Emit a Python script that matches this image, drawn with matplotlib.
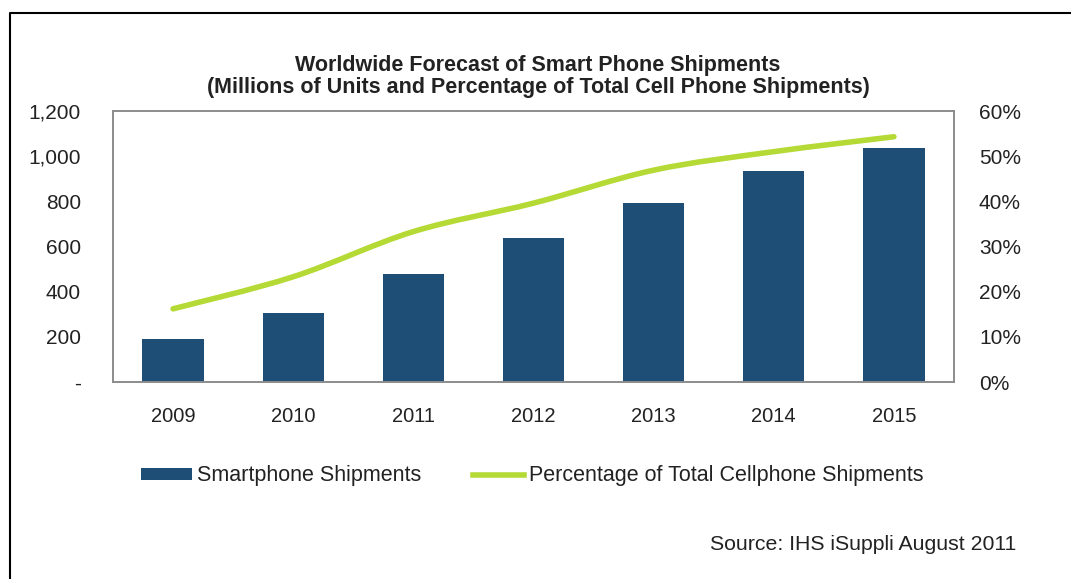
import matplotlib.pyplot as plt
from matplotlib.path import Path
from matplotlib.patches import PathPatch, Patch
from matplotlib.lines import Line2D
from matplotlib.ticker import FuncFormatter

# data
years = ['2009', '2010', '2011', '2012', '2013', '2014', '2015']
shipments = [190, 304, 478, 636, 794, 934, 1038]          # millions of units
pct_total = [16.2, 23.3, 33.3, 39.6, 46.9, 51.0, 54.3]    # % of all cell phones

left_ticks = [0, 200, 400, 600, 800, 1000, 1200]
right_ticks = [0, 10, 20, 30, 40, 50, 60]

bar_color = '#1e4d75'
line_color = '#b5d935'
spine_color = '#8c8c8c'
font = 'Liberation Sans'

plt.rcParams['font.family'] = [font, 'DejaVu Sans']

fig = plt.figure(figsize=(10.71, 5.79), dpi=100)
ax = fig.add_axes([113 / 1071, 1 - 382 / 579, (954 - 113) / 1071, (382 - 111) / 579])
ax2 = ax.twinx()

x = list(range(len(years)))
ax.bar(x, shipments, width=0.51, color=bar_color, zorder=2)

# smoothed line like Excel (catmull-rom -> bezier)
pts = list(zip(x, pct_total))
verts = [pts[0]]
codes = [Path.MOVETO]
for i in range(len(pts) - 1):
    p0 = pts[max(i - 1, 0)]
    p1 = pts[i]
    p2 = pts[i + 1]
    p3 = pts[min(i + 2, len(pts) - 1)]
    c1 = (p1[0] + (p2[0] - p0[0]) / 6, p1[1] + (p2[1] - p0[1]) / 6)
    c2 = (p2[0] - (p3[0] - p1[0]) / 6, p2[1] - (p3[1] - p1[1]) / 6)
    verts += [c1, c2, p2]
    codes += [Path.CURVE4] * 3
ax2.add_patch(PathPatch(Path(verts, codes), facecolor='none', edgecolor=line_color,
                        lw=4, capstyle='round', zorder=3))

ax.set_xlim(-0.5, len(years) - 0.5)
ax.set_ylim(0, 1200)
ax2.set_ylim(0, 60)

ax.set_yticks(left_ticks)
ax.yaxis.set_major_formatter(FuncFormatter(lambda v, p: '-' if v == 0 else f'{int(v):,}'))
ax2.set_yticks(right_ticks)
ax2.yaxis.set_major_formatter(FuncFormatter(lambda v, p: f'{int(v)}%'))
ax.set_xticks(x)
ax.set_xticklabels(years)

for a in (ax, ax2):
    a.tick_params(length=0, labelsize=15, colors='#222222')
    for s in a.spines.values():
        s.set_color(spine_color)
        s.set_linewidth(1.2)
ax.tick_params(axis='y', pad=23)
ax.tick_params(axis='x', pad=18, labelsize=14.5)
ax2.tick_params(axis='y', pad=18)

fig.text(538 / 1071, 1 - 65 / 579, 'Worldwide Forecast of Smart Phone Shipments',
         ha='center', va='center', fontsize=15.5, fontweight='bold', color='#222222')
fig.text(538 / 1071, 1 - 88 / 579, '(Millions of Units and Percentage of Total Cell Phone Shipments)',
         ha='center', va='center', fontsize=15.5, fontweight='bold', color='#222222')

handles = [Patch(facecolor=bar_color, edgecolor='none'),
           Line2D([0], [0], color=line_color, lw=4)]
fig.legend(handles, ['Smartphone Shipments', 'Percentage of Total Cellphone Shipments'],
           loc='center', bbox_to_anchor=(532 / 1071, 1 - 476 / 579), ncol=2, frameon=False,
           fontsize=15.5, handlelength=2.4, handleheight=0.45, handletextpad=0.2,
           columnspacing=2.4, labelcolor='#222222')

fig.text(1016 / 1071, 1 - 544 / 579, 'Source: IHS iSuppli August 2011',
         ha='right', va='center', fontsize=15.3, color='#222222')

# black frame on left/top edges
fig.add_artist(Line2D([10 / 1071, 10 / 1071, 1.0], [0.0, 1 - 13 / 579, 1 - 13 / 579],
                      transform=fig.transFigure, color='black', lw=1.5))

fig.savefig('out.png', dpi=100)
